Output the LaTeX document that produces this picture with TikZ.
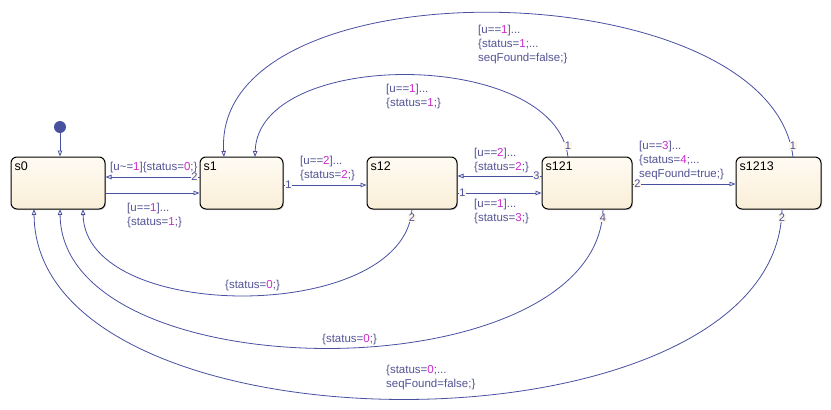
\documentclass[tikz,border=0pt]{standalone}
\usepackage{fontspec}
\setmainfont{Liberation Sans}
\usetikzlibrary{arrows.meta,shadows}
\definecolor{ln}{RGB}{72,80,160}
\definecolor{tx}{RGB}{84,84,150}
\definecolor{mg}{RGB}{205,40,205}
\definecolor{sttop}{RGB}{255,251,243}
\definecolor{stbot}{RGB}{250,238,215}
\definecolor{halo}{RGB}{253,246,232}
\newcommand{\mgn}[1]{\textcolor{mg}{#1}}
\begin{document}
\begin{tikzpicture}[x=1pt,y=-1pt,
  state/.style={draw=black, line width=1pt, rounded corners=6pt,
    top color=sttop, bottom color=stbot, minimum height=52pt,
    drop shadow={shadow xshift=1pt,shadow yshift=-1.2pt,opacity=0.3},
    inner sep=0pt},
  sname/.style={anchor=north west, inner sep=0pt, font=\fontsize{12.5}{14}\selectfont, text=black, xshift=4pt, yshift=-5pt},
  tr/.style={draw=ln, line width=0.8pt, -{Triangle[open, length=6pt, width=4.5pt]}},
  ord/.style={text=ln, fill=halo, inner sep=0.5pt, font=\fontsize{11}{12}\selectfont},
  tlabel/.style={text=tx, align=left, anchor=base west, inner sep=0pt, font=\fontsize{11.5}{14}\selectfont}
]
\fill[white] (0,0) rectangle (831,410);
\useasboundingbox (0,0) rectangle (831,410);

% states
\node[state, minimum width=94pt, label={[sname]north west:s0}] (s0) at (58,183) {};
\node[state, minimum width=83pt, label={[sname]north west:s1}] (s1) at (241.5,183) {};
\node[state, minimum width=90pt, label={[sname]north west:s12}] (s12) at (412,183) {};
\node[state, minimum width=90pt, label={[sname]north west:s121}] (s121) at (587,183) {};
\node[state, minimum width=85pt, label={[sname]north west:s1213}] (s1213) at (778.5,183) {};

% default transition
\fill[ln] (60,127) circle (6pt);
\coordinate (dot) at (60,127);
\draw[tr] (dot) -- ([xshift=2pt]s0.north);

% horizontal transitions
\draw[tr] ([yshift=6pt]s1.west) -- ([yshift=6pt]s0.east)
  node[ord, at start, xshift=-5pt] {2};
\draw[tr] ([yshift=-10pt]s0.east) -- ([yshift=-10pt]s1.west);
\draw[tr] ([yshift=-2pt]s1.east) -- ([yshift=-2pt]s12.west)
  node[ord, at start, xshift=5pt] {1};
\draw[tr] ([yshift=7pt]s121.west) -- ([yshift=7pt]s12.east)
  node[ord, at start, xshift=-5pt] {3};
\draw[tr] ([yshift=-10pt]s12.east) -- ([yshift=-10pt]s121.west)
  node[ord, at start, xshift=5pt] {1};
\draw[tr] ([yshift=-1pt]s121.east) -- ([yshift=-1pt]s1213.west)
  node[ord, at start, xshift=5pt] {2};

% top arcs
\coordinate (a7s) at (568,157);
\coordinate (a7e) at (255,157);
\draw[tr] (a7s) .. controls (555,48) and (258,48) .. (a7e)
  node[ord, at start, yshift=11pt] {1};
\coordinate (a8s) at (793,157);
\coordinate (a8e) at (224,157);
\draw[tr] (a8s) .. controls (770,-30) and (212,-40) .. (a8e)
  node[ord, at start, yshift=11pt] {1};

% bottom arcs
\coordinate (a9s) at (412,209);
\coordinate (a9e) at (83,209);
\draw[tr] (a9s) .. controls (405,324) and (85,324) .. (a9e)
  node[ord, at start, yshift=-9pt] {2};
\coordinate (a10s) at (603,209);
\coordinate (a10e) at (60,209);
\draw[tr] (a10s) .. controls (598,394) and (62,394) .. (a10e)
  node[ord, at start, yshift=-9pt] {4};
\coordinate (a11s) at (782,209);
\coordinate (a11e) at (34,209);
\draw[tr] (a11s) .. controls (778,462) and (36,462) .. (a11e)
  node[ord, at start, yshift=-9pt] {2};

% labels (base = baseline of last line)
\node[tlabel] (l1) at (110,170) {[u\textasciitilde=\mgn{1}]\{status=\mgn{0};\}};
\node[tlabel] (l2) at (127,225) {[u==\mgn{1}]...\\\{status=\mgn{1};\}};
\node[tlabel] (l3) at (300,178) {[u==\mgn{2}]...\\\{status=\mgn{2};\}};
\node[tlabel] (l4) at (474,170) {[u==\mgn{2}]...\\\{status=\mgn{2};\}};
\node[tlabel] (l5) at (474,221) {[u==\mgn{1}]...\\\{status=\mgn{3};\}};
\node[tlabel] (l6) at (639,177) {[u==\mgn{3}]...\\\{status=\mgn{4};...\\seqFound=true;\}};
\node[tlabel] (l7) at (386,106) {[u==\mgn{1}]...\\\{status=\mgn{1};\}};
\node[tlabel] (l8) at (478,61) {[u==\mgn{1}]...\\\{status=\mgn{1};...\\seqFound=false;\}};
\node[tlabel] (l9) at (225,288) {\{status=\mgn{0};\}};
\node[tlabel] (l10) at (322,342) {\{status=\mgn{0};\}};
\node[tlabel] (l11) at (386,387) {\{status=\mgn{0};...\\seqFound=false;\}};
\end{tikzpicture}
\end{document}
